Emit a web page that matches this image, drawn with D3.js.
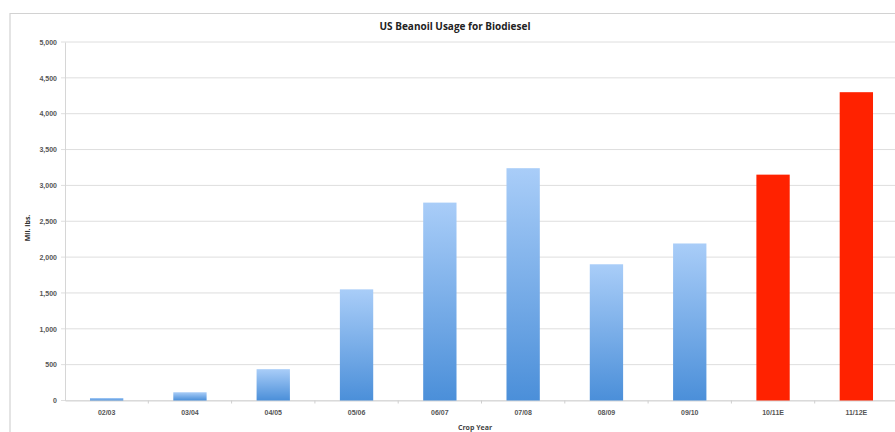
<!DOCTYPE html>
<html>
<head>
<meta charset="utf-8">
<script src="https://cdn.jsdelivr.net/npm/d3@7"></script>
<style>
  html, body { margin: 0; padding: 0; background: #fff; }
  svg { display: block; font-family: "Open Sans", "DejaVu Sans", sans-serif; }
</style>
</head>
<body>
<svg id="chart" width="895" height="432"></svg>
<script>
// Crop years and soybean oil used for biodiesel (million lbs)
const cropYears = ["02/03", "03/04", "04/05", "05/06", "06/07", "07/08", "08/09", "09/10", "10/11E", "11/12E"];
const usage = [35, 115, 437, 1550, 2760, 3240, 1900, 2190, 3150, 4300];
const estimated = [false, false, false, false, false, false, false, false, true, true];
const yTicks = [0, 500, 1000, 1500, 2000, 2500, 3000, 3500, 4000, 4500, 5000];

const svg = d3.select("#chart");
const plot = { left: 65, right: 898, top: 42, bottom: 400.5 };

// Outer chart frame (top and left edges visible)
svg.append("path")
  .attr("d", "M10,432 V13.5 H895")
  .attr("fill", "none")
  .attr("stroke", "#d2d2d2")
  .attr("stroke-width", 1.2);

const x = d3.scaleBand()
  .domain(cropYears)
  .range([plot.left, plot.right])
  .paddingInner(0.6)
  .paddingOuter(0.3);

const y = d3.scaleLinear()
  .domain([0, 5000])
  .range([plot.bottom, plot.top]);

// Gradient for actual-year bars
const defs = svg.append("defs");
const grad = defs.append("linearGradient")
  .attr("id", "blueBar")
  .attr("x1", 0).attr("y1", 0).attr("x2", 0).attr("y2", 1);
grad.append("stop").attr("offset", "0%").attr("stop-color", "#a9cdf8");
grad.append("stop").attr("offset", "100%").attr("stop-color", "#4b8fd9");

// Horizontal gridlines
svg.append("g")
  .selectAll("line")
  .data(yTicks)
  .join("line")
  .attr("x1", plot.left - 4)
  .attr("x2", 895)
  .attr("y1", d => y(d))
  .attr("y2", d => y(d))
  .attr("stroke", "#dedede")
  .attr("stroke-width", 1);

// Y axis
const yAxis = svg.append("g")
  .attr("transform", `translate(${plot.left},0)`)
  .call(d3.axisLeft(y).tickValues(yTicks).tickFormat(d3.format(",")).tickSize(0).tickPadding(8));
yAxis.select(".domain").attr("stroke", "#d6d6d6");
yAxis.selectAll("text")
  .attr("fill", "#555")
  .attr("font-size", "7px")
  .attr("font-weight", "bold");

// X axis with ticks at category boundaries
const xAxis = svg.append("g")
  .attr("transform", `translate(0,${plot.bottom})`)
  .call(d3.axisBottom(x).tickSize(0).tickPadding(10));
xAxis.select(".domain").attr("stroke", "#d6d6d6");
xAxis.selectAll("text")
  .attr("fill", "#555")
  .attr("font-size", "7px")
  .attr("font-weight", "bold");
xAxis.selectAll(".sep")
  .data(cropYears.slice(1))
  .join("line")
  .attr("class", "sep")
  .attr("x1", d => x(d) - x.step() * x.paddingInner() / 2)
  .attr("x2", d => x(d) - x.step() * x.paddingInner() / 2)
  .attr("y1", 0)
  .attr("y2", 3)
  .attr("stroke", "#cfcfcf");

// Bars
svg.append("g")
  .selectAll("rect")
  .data(cropYears)
  .join("rect")
  .attr("x", d => x(d))
  .attr("width", x.bandwidth())
  .attr("y", (d, i) => y(usage[i]))
  .attr("height", (d, i) => y(0) - y(usage[i]))
  .attr("fill", (d, i) => estimated[i] ? "#ff2200" : "url(#blueBar)");

// Titles
svg.append("text")
  .attr("x", 455).attr("y", 30)
  .attr("text-anchor", "middle")
  .attr("font-size", "10px")
  .attr("font-weight", "bold")
  .attr("fill", "#222")
  .text("US Beanoil Usage for Biodiesel");

svg.append("text")
  .attr("x", 475).attr("y", 430)
  .attr("text-anchor", "middle")
  .attr("font-size", "7px")
  .attr("font-weight", "bold")
  .attr("fill", "#444")
  .text("Crop Year");

svg.append("text")
  .attr("transform", "translate(30,228) rotate(-90)")
  .attr("text-anchor", "middle")
  .attr("font-size", "7px")
  .attr("font-weight", "bold")
  .attr("fill", "#333")
  .text("Mil. lbs.");
</script>
</body>
</html>
